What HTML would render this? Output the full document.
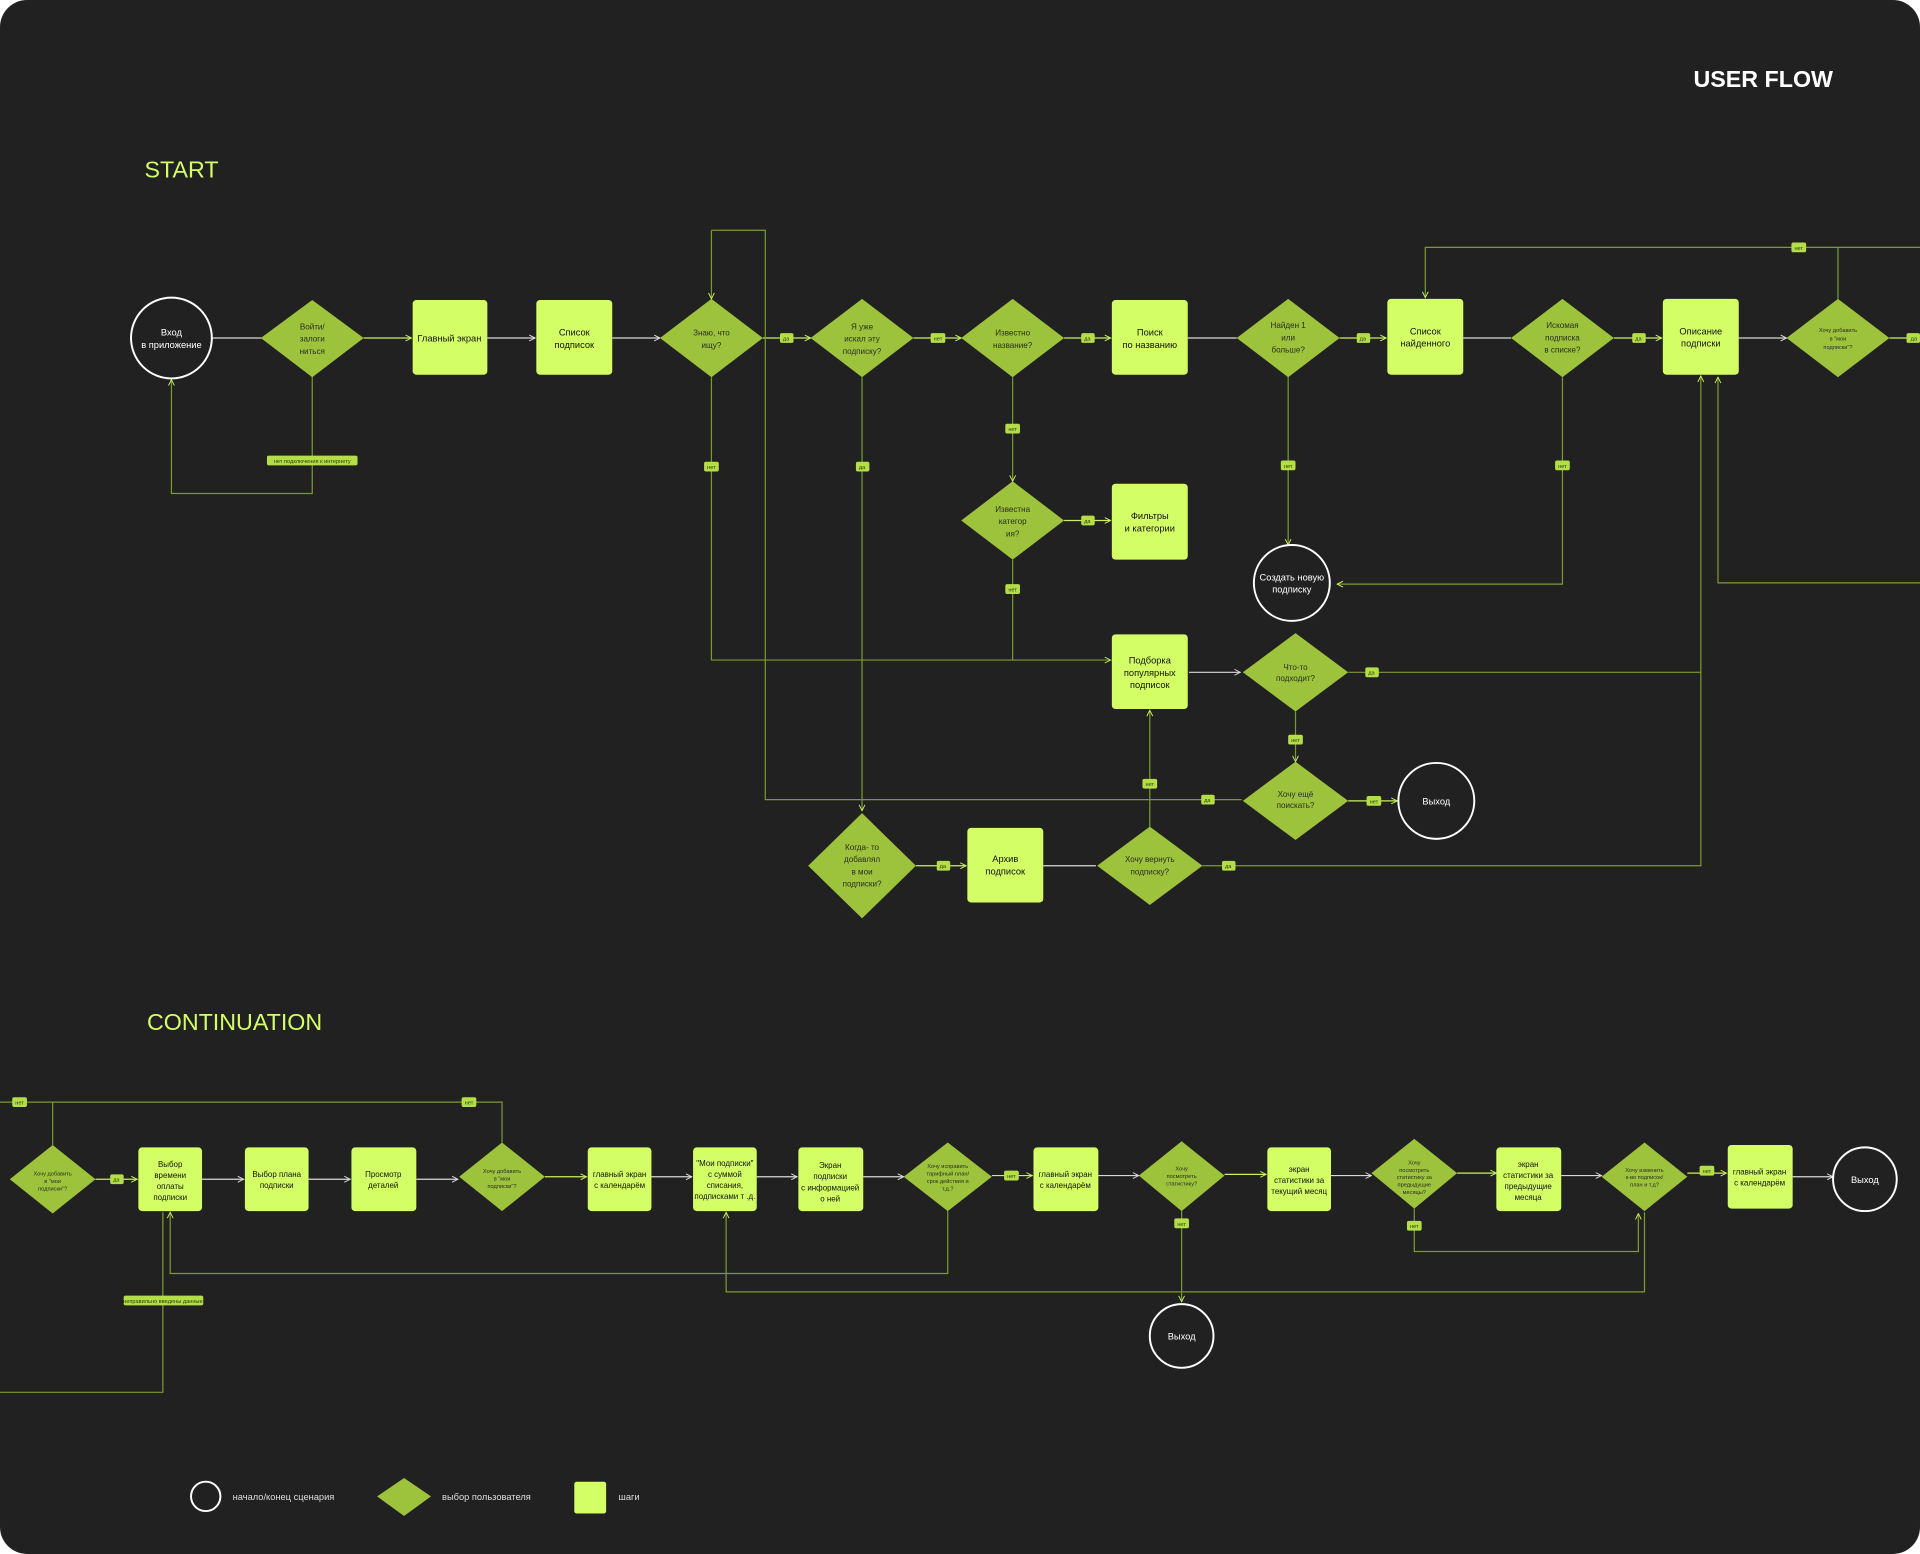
<!DOCTYPE html>
<html><head><meta charset="utf-8"><style>
html,body{margin:0;padding:0;background:#fff;width:1920px;height:1554px;overflow:hidden}
svg{display:block}
text{font-family:"Liberation Sans","Noto Sans CJK SC",sans-serif}
.b{fill:#d4fe66}
.d{fill:#9dc23c}
.bt{fill:#111;font-size:7.6px;text-anchor:middle}
.bs{fill:#111;font-size:6.5px;text-anchor:middle}
.dt{fill:#2a2f20;font-size:6.6px;text-anchor:middle}
.dts{fill:#2a2f20;font-size:4.6px;text-anchor:middle}
.c{fill:none;stroke:#fff;stroke-width:1.6}
.ct{fill:#fff;font-size:7.6px;text-anchor:middle}
.l{fill:none;stroke:#7a9a30;stroke-width:1}
.w{fill:none;stroke:#d8d8d8;stroke-width:1}
.g{fill:none;stroke:#c8f060;stroke-width:1}
.lb{fill:#b4de48}
.lt{fill:#2c3a10;font-size:4.6px;text-anchor:middle}
</style></head><body>
<svg width="1920" height="1554" viewBox="0 0 1568 1269" xmlns="http://www.w3.org/2000/svg">
<defs>
<marker id="a" viewBox="0 0 10 10" refX="9" refY="5" markerWidth="6" markerHeight="6" orient="auto-start-reverse"><path d="M1 1L9 5L1 9" fill="none" stroke="#c8f060" stroke-width="1.3"/></marker>
<marker id="aw" viewBox="0 0 10 10" refX="9" refY="5" markerWidth="6" markerHeight="6" orient="auto-start-reverse"><path d="M1 1L9 5L1 9" fill="none" stroke="#ddd" stroke-width="1.3"/></marker>
</defs>
<rect x="0" y="0" width="1568" height="1269" rx="22" fill="#212121"/>
<text x="1440" y="71" fill="#fff" font-size="19" font-weight="bold" text-anchor="middle">USER FLOW</text>
<text x="118" y="145" fill="#d4fe66" font-size="19">START</text>
<text x="120" y="841" fill="#d4fe66" font-size="19">CONTINUATION</text>

<g>
<path class="w" d="M173 276H214"/>
<path class="g" d="M297 276H336" marker-end="url(#a)"/>
<path class="w" d="M398 276H437" marker-end="url(#aw)"/>
<path class="w" d="M500 276H539" marker-end="url(#aw)"/>
<path class="g" d="M623 276H662" marker-end="url(#a)"/>
<path class="g" d="M746 276H785" marker-end="url(#a)"/>
<path class="g" d="M869 276H907" marker-end="url(#a)"/>
<path class="w" d="M970 276H1010"/>
<path class="g" d="M1094 276H1132" marker-end="url(#a)"/>
<path class="w" d="M1195 276H1234"/>
<path class="g" d="M1318 276H1357" marker-end="url(#a)"/>
<path class="w" d="M1420 276H1459" marker-end="url(#aw)"/>
<path class="g" d="M1543 276H1568"/>
<path class="l" d="M255 308V403H140V310" marker-end="url(#a)"/>
<path class="l" d="M581 188V244" marker-end="url(#a)"/>
<path class="l" d="M581 188H625V653H1014"/>
<path class="l" d="M581 308V539H907" marker-end="url(#a)"/>
<path class="l" d="M704 308V662" marker-end="url(#a)"/>
<path class="l" d="M827 308V393" marker-end="url(#a)"/>
<path class="g" d="M869 425H907" marker-end="url(#a)"/>
<path class="l" d="M827 457V539"/>
<path class="l" d="M1052 308V445" marker-end="url(#a)"/>
<path class="l" d="M1276 308V477H1092" marker-end="url(#a)"/>
<path class="w" d="M971 549H1013" marker-end="url(#aw)"/>
<path class="l" d="M1101 549H1389V307" marker-end="url(#a)"/>
<path class="l" d="M1058 581V622" marker-end="url(#a)"/>
<path class="g" d="M1101 654H1141" marker-end="url(#a)"/>
<path class="g" d="M748 707H789" marker-end="url(#a)"/>
<path class="w" d="M852 707H895"/>
<path class="l" d="M982 707H1389V549"/>
<path class="l" d="M939 676V580" marker-end="url(#a)"/>
<path class="l" d="M1501 244V202H1568"/>
<path class="l" d="M1501 202H1164V243" marker-end="url(#a)"/>
<path class="l" d="M1568 476H1403V308" marker-end="url(#a)"/>
</g>

<circle class="c" cx="140" cy="276" r="33"/>
<text class="ct" x="140" y="274">Вход</text><text class="ct" x="140" y="284">в приложение</text>
<path class="d" d="M255 245L297 276L255 308L213 276Z"/>
<text class="dt" x="255" y="269">Войти/</text><text class="dt" x="255" y="279">залоги</text><text class="dt" x="255" y="289">ниться</text>
<rect class="b" x="337" y="245" width="61" height="61" rx="3"/><text class="bt" x="367" y="279">Главный экран</text>
<rect class="b" x="438" y="245" width="62" height="61" rx="3"/><text class="bt" x="469" y="274">Список</text><text class="bt" x="469" y="284">подписок</text>
<path class="d" d="M581 244L623 276L581 308L539 276Z"/>
<text class="dt" x="581" y="274">Знаю, что</text><text class="dt" x="581" y="284">ищу?</text>
<path class="d" d="M704 244L746 276L704 308L662 276Z"/>
<text class="dt" x="704" y="269">Я уже</text><text class="dt" x="704" y="279">искал эту</text><text class="dt" x="704" y="289">подписку?</text>
<path class="d" d="M827 244L869 276L827 308L785 276Z"/>
<text class="dt" x="827" y="274">Известно</text><text class="dt" x="827" y="284">название?</text>
<rect class="b" x="908" y="245" width="62" height="61" rx="3"/><text class="bt" x="939" y="274">Поиск</text><text class="bt" x="939" y="284">по названию</text>
<path class="d" d="M1052 244L1094 276L1052 308L1010 276Z"/>
<text class="dt" x="1052" y="268">Найден 1</text><text class="dt" x="1052" y="278">или</text><text class="dt" x="1052" y="288">больше?</text>
<rect class="b" x="1133" y="244" width="62" height="62" rx="3"/><text class="bt" x="1164" y="273">Список</text><text class="bt" x="1164" y="283">найденного</text>
<path class="d" d="M1276 244L1318 276L1276 308L1234 276Z"/>
<text class="dt" x="1276" y="268">Искомая</text><text class="dt" x="1276" y="278">подписка</text><text class="dt" x="1276" y="288">в списке?</text>
<rect class="b" x="1358" y="244" width="62" height="62" rx="3"/><text class="bt" x="1389" y="273">Описание</text><text class="bt" x="1389" y="283">подписки</text>
<path class="d" d="M1501 244L1543 276L1501 308L1459 276Z"/>
<text class="dts" x="1501" y="271">Хочу добавить</text><text class="dts" x="1501" y="278">в "мои</text><text class="dts" x="1501" y="285">подписки"?</text>
<path class="d" d="M827 393L869 425L827 457L785 425Z"/>
<text class="dt" x="827" y="418">Известна</text><text class="dt" x="827" y="428">категор</text><text class="dt" x="827" y="438">ия?</text>
<rect class="b" x="908" y="395" width="62" height="62" rx="3"/><text class="bt" x="939" y="424">Фильтры</text><text class="bt" x="939" y="434">и категории</text>
<circle class="c" cx="1055" cy="476" r="31"/>
<text class="ct" x="1055" y="474">Создать новую</text><text class="ct" x="1055" y="484">подписку</text>
<rect class="b" x="908" y="518" width="62" height="61" rx="3"/><text class="bt" x="939" y="542">Подборка</text><text class="bt" x="939" y="552">популярных</text><text class="bt" x="939" y="562">подписок</text>
<path class="d" d="M1058 517L1101 549L1058 581L1015 549Z"/>
<text class="dt" x="1058" y="547">Что-то</text><text class="dt" x="1058" y="556">подходит?</text>
<path class="d" d="M1058 622L1101 654L1058 686L1015 654Z"/>
<text class="dt" x="1058" y="651">Хочу ещё</text><text class="dt" x="1058" y="660">поискать?</text>
<circle class="c" cx="1173" cy="654" r="31"/><text class="ct" x="1173" y="657">Выход</text>
<path class="d" d="M704 664L748 707L704 750L660 707Z"/>
<text class="dt" x="704" y="694">Когда- то</text><text class="dt" x="704" y="704">добавлял</text><text class="dt" x="704" y="714">в мои</text><text class="dt" x="704" y="724">подписки?</text>
<rect class="b" x="790" y="676" width="62" height="61" rx="3"/><text class="bt" x="821" y="704">Архив</text><text class="bt" x="821" y="714">подписок</text>
<path class="d" d="M939 675L982 707L939 739L896 707Z"/>
<text class="dt" x="939" y="704">Хочу вернуть</text><text class="dt" x="939" y="714">подписку?</text>

<g>
<rect class="lb" x="218" y="372" width="74" height="8" rx="1.5"/><text class="lt" x="255" y="378">нет подключения к интернету</text>
<rect class="lb" x="637" y="272" width="11" height="8" rx="1.5"/><text class="lt" x="642" y="278">да</text>
<rect class="lb" x="760" y="272" width="12" height="8" rx="1.5"/><text class="lt" x="766" y="278">нет</text>
<rect class="lb" x="883" y="272" width="11" height="8" rx="1.5"/><text class="lt" x="888" y="278">да</text>
<rect class="lb" x="1108" y="272" width="11" height="8" rx="1.5"/><text class="lt" x="1113" y="278">да</text>
<rect class="lb" x="1333" y="272" width="11" height="8" rx="1.5"/><text class="lt" x="1338" y="278">да</text>
<rect class="lb" x="1557" y="272" width="11" height="8" rx="1.5"/><text class="lt" x="1563" y="278">да</text>
<rect class="lb" x="1463" y="198" width="12" height="8" rx="1.5"/><text class="lt" x="1469" y="204">нет</text>
<rect class="lb" x="575" y="377" width="12" height="8" rx="1.5"/><text class="lt" x="581" y="383">нет</text>
<rect class="lb" x="699" y="377" width="11" height="8" rx="1.5"/><text class="lt" x="704" y="383">да</text>
<rect class="lb" x="821" y="346" width="12" height="8" rx="1.5"/><text class="lt" x="827" y="352">нет</text>
<rect class="lb" x="883" y="421" width="11" height="8" rx="1.5"/><text class="lt" x="888" y="427">да</text>
<rect class="lb" x="821" y="477" width="12" height="8" rx="1.5"/><text class="lt" x="827" y="483">нет</text>
<rect class="lb" x="1046" y="376" width="12" height="8" rx="1.5"/><text class="lt" x="1052" y="382">нет</text>
<rect class="lb" x="1270" y="376" width="12" height="8" rx="1.5"/><text class="lt" x="1276" y="382">нет</text>
<rect class="lb" x="1115" y="545" width="11" height="8" rx="1.5"/><text class="lt" x="1120" y="551">да</text>
<rect class="lb" x="1052" y="600" width="12" height="8" rx="1.5"/><text class="lt" x="1058" y="606">нет</text>
<rect class="lb" x="981" y="649" width="11" height="8" rx="1.5"/><text class="lt" x="986" y="655">да</text>
<rect class="lb" x="1116" y="650" width="12" height="8" rx="1.5"/><text class="lt" x="1122" y="656">нет</text>
<rect class="lb" x="765" y="703" width="11" height="8" rx="1.5"/><text class="lt" x="770" y="709">да</text>
<rect class="lb" x="933" y="636" width="12" height="8" rx="1.5"/><text class="lt" x="939" y="642">нет</text>
<rect class="lb" x="998" y="703" width="11" height="8" rx="1.5"/><text class="lt" x="1003" y="709">да</text>
</g>

<g>
<path class="l" d="M43 935V900H410V933"/>
<path class="l" d="M0 900H43"/>
<path class="g" d="M78 963H112" marker-end="url(#a)"/>
<path class="w" d="M165 963H199" marker-end="url(#aw)"/>
<path class="w" d="M252 963H286" marker-end="url(#aw)"/>
<path class="w" d="M340 963H374" marker-end="url(#aw)"/>
<path class="g" d="M445 961H479" marker-end="url(#a)"/>
<path class="w" d="M532 961H565" marker-end="url(#aw)"/>
<path class="w" d="M618 961H651" marker-end="url(#aw)"/>
<path class="w" d="M705 961H738" marker-end="url(#aw)"/>
<path class="g" d="M810 960H843" marker-end="url(#a)"/>
<path class="w" d="M897 960H930" marker-end="url(#aw)"/>
<path class="g" d="M1000 959H1034" marker-end="url(#a)"/>
<path class="w" d="M1087 960H1120" marker-end="url(#aw)"/>
<path class="g" d="M1190 958H1222" marker-end="url(#a)"/>
<path class="w" d="M1275 960H1308" marker-end="url(#aw)"/>
<path class="g" d="M1378 958H1410" marker-end="url(#a)"/>
<path class="w" d="M1464 961H1497" marker-end="url(#aw)"/>
<path class="l" d="M965 989V1063" marker-end="url(#a)"/>
<path class="l" d="M774 989V1040H139V990" marker-end="url(#a)"/>
<path class="l" d="M1343 990V1055H593V990" marker-end="url(#a)"/>
<path class="l" d="M1155 987V1022H1338V991" marker-end="url(#a)"/>
<path class="l" d="M0 1137H133V990"/>
</g>

<path class="d" d="M43 935L78 963L43 991L8 963Z"/>
<text class="dts" x="43" y="960">Хочу добавить</text><text class="dts" x="43" y="966">в "мои</text><text class="dts" x="43" y="972">подписки"?</text>
<rect class="b" x="113" y="937" width="52" height="52" rx="3"/><text class="bs" x="139" y="953">Выбор</text><text class="bs" x="139" y="962">времени</text><text class="bs" x="139" y="971">оплаты</text><text class="bs" x="139" y="980">подписки</text>
<rect class="b" x="200" y="937" width="52" height="52" rx="3"/><text class="bs" x="226" y="961">Выбор плана</text><text class="bs" x="226" y="970">подписки</text>
<rect class="b" x="287" y="937" width="53" height="52" rx="3"/><text class="bs" x="313" y="961">Просмотр</text><text class="bs" x="313" y="970">деталей</text>
<path class="d" d="M410 933L445 961L410 989L375 961Z"/>
<text class="dts" x="410" y="958">Хочу добавить</text><text class="dts" x="410" y="964">в "мои</text><text class="dts" x="410" y="970">подписки"?</text>
<rect class="b" x="480" y="937" width="52" height="52" rx="3"/><text class="bs" x="506" y="961">главный экран</text><text class="bs" x="506" y="970">с календарём</text>
<rect class="b" x="566" y="937" width="52" height="52" rx="3"/><text class="bs" x="592" y="952">"Мои подписки"</text><text class="bs" x="592" y="961">с суммой</text><text class="bs" x="592" y="970">списания,</text><text class="bs" x="592" y="979" font-size="6">подписками т .д.</text>
<rect class="b" x="652" y="937" width="53" height="52" rx="3"/><text class="bs" x="678" y="954">Экран</text><text class="bs" x="678" y="963">подписки</text><text class="bs" x="678" y="972" font-size="6">с информацией</text><text class="bs" x="678" y="981">о ней</text>
<path class="d" d="M774 933L810 961L774 989L738 961Z"/>
<text class="dts" x="774" y="954">Хочу исправить</text><text class="dts" x="774" y="960">тарифный план/</text><text class="dts" x="774" y="966">срок действия и</text><text class="dts" x="774" y="972">т.д.?</text>
<rect class="b" x="844" y="937" width="53" height="52" rx="3"/><text class="bs" x="870" y="961">главный экран</text><text class="bs" x="870" y="970">с календарём</text>
<path class="d" d="M965 932L1000 960L965 989L930 960Z"/>
<text class="dts" x="965" y="956">Хочу</text><text class="dts" x="965" y="962">посмотреть</text><text class="dts" x="965" y="968">статистику?</text>
<rect class="b" x="1035" y="937" width="52" height="52" rx="3"/><text class="bs" x="1061" y="957">экран</text><text class="bs" x="1061" y="966">статистики за</text><text class="bs" x="1061" y="975" font-size="6">текущий месяц</text>
<path class="d" d="M1155 930L1190 958L1155 987L1120 958Z"/>
<text class="dts" x="1155" y="951">Хочу</text><text class="dts" x="1155" y="957">посмотреть</text><text class="dts" x="1155" y="963">статистику за</text><text class="dts" x="1155" y="969">предыдущие</text><text class="dts" x="1155" y="975">месяцы?</text>
<rect class="b" x="1222" y="937" width="53" height="52" rx="3"/><text class="bs" x="1248" y="953">экран</text><text class="bs" x="1248" y="962">статистики за</text><text class="bs" x="1248" y="971">предыдущие</text><text class="bs" x="1248" y="980">месяца</text>
<path class="d" d="M1343 933L1378 961L1343 989L1308 961Z"/>
<text class="dts" x="1343" y="957">Хочу изменить</text><text class="dts" x="1343" y="963">к-во подписок/</text><text class="dts" x="1343" y="969">план и т.д?</text>
<rect class="b" x="1411" y="935" width="53" height="52" rx="3"/><text class="bs" x="1437" y="959">главный экран</text><text class="bs" x="1437" y="968">с календарём</text>
<circle class="c" cx="1523" cy="963" r="26"/><text class="ct" x="1523" y="966">Выход</text>
<circle class="c" cx="965" cy="1091" r="26"/><text class="ct" x="965" y="1094">Выход</text>

<g>
<rect class="lb" x="10" y="896" width="12" height="8" rx="1.5"/><text class="lt" x="16" y="902">нет</text>
<rect class="lb" x="377" y="896" width="12" height="8" rx="1.5"/><text class="lt" x="383" y="902">нет</text>
<rect class="lb" x="90" y="959" width="11" height="8" rx="1.5"/><text class="lt" x="95" y="965">да</text>
<rect class="lb" x="820" y="956" width="12" height="8" rx="1.5"/><text class="lt" x="826" y="962">нет</text>
<rect class="lb" x="959" y="995" width="12" height="8" rx="1.5"/><text class="lt" x="965" y="1001">нет</text>
<rect class="lb" x="1149" y="997" width="12" height="8" rx="1.5"/><text class="lt" x="1155" y="1003">нет</text>
<rect class="lb" x="1388" y="952" width="12" height="8" rx="1.5"/><text class="lt" x="1394" y="958">нет</text>
<rect class="lb" x="101" y="1058" width="65" height="8" rx="1.5"/><text class="lt" x="133" y="1064">неправильно введены данные</text>
</g>

<circle class="c" cx="168" cy="1222" r="12"/>
<text x="190" y="1225" fill="#ddd" font-size="7.6">начало/конец сценария</text>
<path class="d" d="M330 1207L352 1222L330 1238L308 1222Z"/>
<text x="361" y="1225" fill="#ddd" font-size="7.6">выбор пользователя</text>
<rect class="b" x="469" y="1210" width="26" height="26" rx="2"/>
<text x="505" y="1225" fill="#ddd" font-size="7.6">шаги</text>
</svg>
</body></html>
